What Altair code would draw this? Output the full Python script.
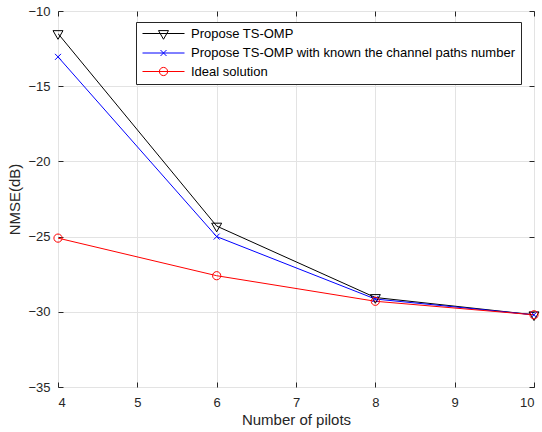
import altair as alt
import pandas as pd

pilots = [4, 6, 8, 10]
series_names = [
    "Propose TS-OMP",
    "Propose TS-OMP with known the channel paths number",
    "Ideal solution",
]
nmse_ts_omp = [-11.5, -24.3, -29.05, -30.2]
nmse_known = [-13.05, -25.0, -29.15, -30.2]
nmse_ideal = [-25.1, -27.6, -29.3, -30.2]
colors = ["#000000", "#0000ff", "#ff0000"]

# marker glyphs (plot) and legend glyphs (line + marker), unit = 5 px
plot_shapes = [
    "M-1,-0.58L1,-0.58L0,1.15Z",
    "M-0.6,-0.6L0.6,0.6M-0.6,0.6L0.6,-0.6",
    "M0.82,0A0.82,0.82 0 1,1 -0.82,0A0.82,0.82 0 1,1 0.82,0",
]
legend_shapes = ["M-4.2,0H4.2" + s for s in plot_shapes]

rows = []
for name, vals in zip(series_names, [nmse_ts_omp, nmse_known, nmse_ideal]):
    for p, v in zip(pilots, vals):
        rows.append({"pilots": p, "nmse": v, "series": name})
df = pd.DataFrame(rows)

FONT = "Liberation Sans"
TXT = "#262626"

xscale = alt.Scale(domain=[4, 10], nice=False)
yscale = alt.Scale(domain=[-35, -10], nice=False)
cscale = alt.Scale(domain=series_names, range=colors)

tick_vals_x = [4, 5, 6, 7, 8, 9, 10]
tick_vals_y = [-35, -30, -25, -20, -15, -10]

base = alt.Chart(df)

lines = base.mark_line(strokeWidth=1, clip=True).encode(
    x=alt.X("pilots:Q", scale=xscale, axis=alt.Axis(
        orient="bottom", values=tick_vals_x, grid=True, ticks=False, domain=False,
        labelPadding=9, title="Number of pilots", titlePadding=3)),
    y=alt.Y("nmse:Q", scale=yscale, axis=alt.Axis(
        orient="left", values=tick_vals_y, grid=True, ticks=False, domain=False,
        labelPadding=8, title="NMSE(dB)", titlePadding=5)),
    color=alt.Color("series:N", scale=cscale, legend=None),
    detail="series:N",
)

points = base.mark_point(filled=False, opacity=1, strokeWidth=1, size=100).encode(
    x=alt.X("pilots:Q", scale=xscale, axis=alt.Axis(
        orient="bottom", values=tick_vals_x, grid=False, ticks=True, tickSize=5,
        domain=False, labels=False, offset=-5, title=None)),
    y=alt.Y("nmse:Q", scale=yscale, axis=alt.Axis(
        orient="left", values=tick_vals_y, grid=False, ticks=True, tickSize=5,
        domain=False, labels=False, offset=-5, title=None)),
    color=alt.Color("series:N", scale=cscale, legend=None),
    shape=alt.Shape("series:N", scale=alt.Scale(domain=series_names, range=plot_shapes), legend=None),
)

legend_layer = base.mark_point(filled=False, opacity=1, strokeWidth=1).encode(
    x=alt.X("pilots:Q", scale=xscale, axis=alt.Axis(
        orient="top", values=tick_vals_x, grid=False, ticks=True, tickSize=5,
        domain=False, labels=False, offset=-5, title=None)),
    y=alt.Y("nmse:Q", scale=yscale, axis=alt.Axis(
        orient="right", values=tick_vals_y, grid=False, ticks=True, tickSize=5,
        domain=False, labels=False, offset=-5, title=None)),
    color=alt.Color("series:N", scale=cscale, legend=alt.Legend(
        orient="none", legendX=78, legendY=11, title=None,
        strokeColor=TXT, fillColor="white", padding=5, cornerRadius=0,
        symbolSize=100, symbolStrokeWidth=1, symbolOffset=16,
        labelOffset=21, labelFontSize=13, labelFont=FONT, labelColor="#000000",
        rowPadding=4.5, labelLimit=600)),
    shape=alt.Shape("series:N", scale=alt.Scale(domain=series_names, range=legend_shapes)),
).transform_filter("datum.nmse > 100")

chart = alt.layer(lines, points, legend_layer).resolve_scale(
    color="independent", shape="independent"
).resolve_axis(
    x="independent", y="independent"
).properties(
    width=476, height=376,
    padding={"left": 58, "top": 11, "right": 8, "bottom": 45},
    autosize=alt.AutoSizeParams(type="none"),
).configure_view(
    stroke=TXT, strokeWidth=1
).configure_axis(
    labelFont=FONT, titleFont=FONT, labelFontSize=13, titleFontSize=15,
    labelColor=TXT, titleColor=TXT, tickColor=TXT, gridColor="#e3e3e3",
    gridWidth=1, titleFontWeight="normal", tickWidth=1,
).configure_legend(
    labelFont=FONT
)

chart.save("out.html", embed_options={"renderer": "svg", "actions": False})
